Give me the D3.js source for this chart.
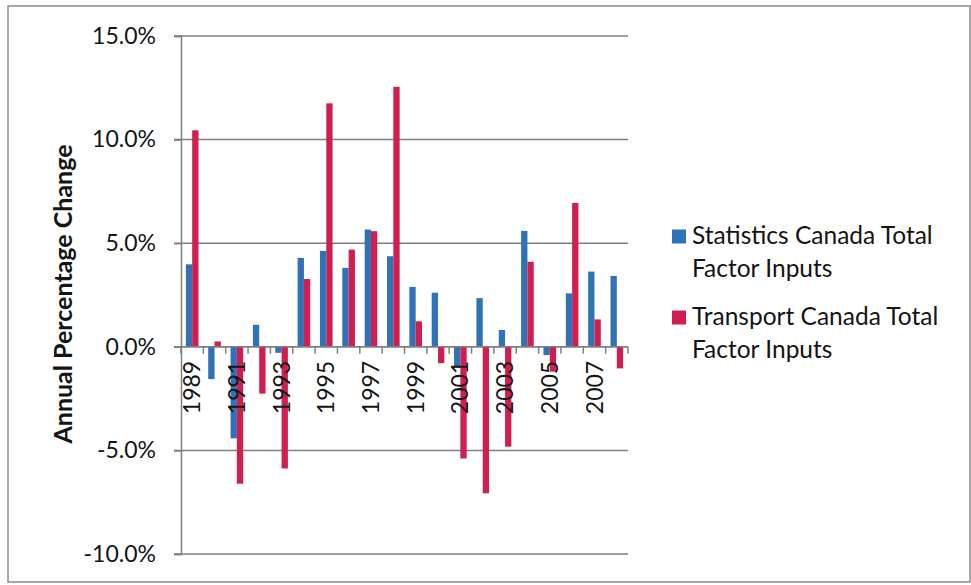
<!DOCTYPE html>
<html>
<head>
<meta charset="utf-8">
<script src="https://cdn.jsdelivr.net/npm/d3@7"></script>
<style>
  html, body { margin: 0; padding: 0; background: #fff; }
  svg { display: block; }
  text { font-family: Lato, "Open Sans", sans-serif; fill: #141414; }
</style>
</head>
<body>
<svg id="chart" width="971" height="585"></svg>
<script>
// ---- data ----
const years = ["1989","1990","1991","1992","1993","1994","1995","1996","1997","1998",
               "1999","2000","2001","2002","2003","2004","2005","2006","2007","2008"];
const statsCanada = [3.98, -1.56, -4.42, 1.06, -0.29, 4.29, 4.63, 3.81, 5.66, 4.37,
                     2.89, 2.61, -1.0, 2.35, 0.81, 5.59, -0.4, 2.58, 3.63, 3.42];
const transportCanada = [10.45, 0.26, -6.61, -2.26, -5.87, 3.27, 11.75, 4.69, 5.58, 12.55,
                         1.23, -0.79, -5.39, -7.07, -4.82, 4.1, -1.2, 6.94, 1.32, -1.04];
const seriesNames = ["Statistics Canada Total Factor Inputs", "Transport Canada Total Factor Inputs"];
const seriesLegendLines = [["Statistics Canada Total", "Factor Inputs"], ["Transport Canada Total", "Factor Inputs"]];
const yTicks = [-10, -5, 0, 5, 10, 15];
const xTickLabels = ["1989","1991","1993","1995","1997","1999","2001","2003","2005","2007"];
const yTitle = "Annual Percentage Change";

const colors = ["#2f72b8", "#cf1f50"];
const series = [statsCanada, transportCanada];

const svg = d3.select("#chart");

// outer frame
svg.append("rect").attr("x", 8).attr("y", 6).attr("width", 962).attr("height", 576)
  .attr("fill", "none").attr("stroke", "#8a8a8a").attr("stroke-width", 1.5);

const x0 = d3.scaleBand().domain(years).range([181, 628]).paddingInner(0).paddingOuter(0);
const x1 = d3.scaleBand().domain([0, 1]).range([0, x0.bandwidth()]).paddingInner(0).paddingOuter(0.77);
const y = d3.scaleLinear().domain([-10, 15]).range([554, 36]);

// gridlines
svg.append("g").selectAll("line").data(yTicks).join("line")
  .attr("x1", 174).attr("x2", 628)
  .attr("y1", d => y(d)).attr("y2", d => y(d))
  .attr("stroke", "#7f7f7f").attr("stroke-width", 1.5);

// y axis
const yAxis = d3.axisLeft(y).tickValues(yTicks).tickSize(7).tickPadding(18)
  .tickFormat(d => d.toFixed(1) + "%");
const gy = svg.append("g").attr("transform", "translate(181,0)").call(yAxis);
gy.select(".domain").attr("stroke", "#7f7f7f").attr("stroke-width", 1.5);
gy.selectAll(".tick line").attr("stroke", "#7f7f7f").attr("stroke-width", 1.5);
gy.selectAll(".tick text").style("font-size", "23px").attr("fill", "#141414")
  .style("font-family", "Lato, sans-serif");

// bars
series.forEach((vals, si) => {
  svg.append("g").selectAll("rect").data(vals).join("rect")
    .attr("x", (d, i) => x0(years[i]) + x1(si))
    .attr("width", x1.bandwidth())
    .attr("y", d => y(Math.max(0, d)))
    .attr("height", d => Math.abs(y(d) - y(0)))
    .attr("fill", colors[si]);
});

// x axis at zero
const xAxis = d3.axisBottom(x0).tickSize(0).tickPadding(0)
  .tickFormat(d => xTickLabels.includes(d) ? d : "");
const gx = svg.append("g").attr("transform", `translate(0,${y(0)})`).call(xAxis);
gx.select(".domain").remove();
svg.append("line").attr("x1", 181).attr("x2", 628).attr("y1", y(0)).attr("y2", y(0))
  .attr("stroke", "#7f7f7f").attr("stroke-width", 1.5);
// category boundary ticks
const boundaries = years.map(yr => x0(yr)).concat([x0.range()[1]]);
svg.append("g").selectAll("line").data(boundaries).join("line")
  .attr("x1", d => d).attr("x2", d => d)
  .attr("y1", y(0)).attr("y2", y(0) + 7)
  .attr("stroke", "#7f7f7f").attr("stroke-width", 1.5);
gx.selectAll(".tick text")
  .attr("transform", "rotate(-90)")
  .attr("text-anchor", "end")
  .attr("x", -14).attr("y", 0).attr("dy", "0.35em")
  .style("font-size", "23px").attr("fill", "#141414")
  .style("font-family", "Lato, sans-serif");

// y title
svg.append("text")
  .attr("transform", `translate(72,${(145 + 443) / 2}) rotate(-90)`)
  .attr("text-anchor", "middle")
  .style("font-size", "25px").style("font-weight", "bold")
  .text(yTitle);

// legend
const legendY = [244, 325];
seriesLegendLines.forEach((lines, si) => {
  const g = svg.append("g");
  g.append("rect").attr("x", 672).attr("y", legendY[si] - 14.5).attr("width", 14).attr("height", 14)
    .attr("fill", colors[si]);
  lines.forEach((ln, li) => {
    g.append("text").attr("x", 692).attr("y", legendY[si] + li * 32.5)
      .style("font-size", "24.5px").text(ln);
  });
});
</script>
</body>
</html>
